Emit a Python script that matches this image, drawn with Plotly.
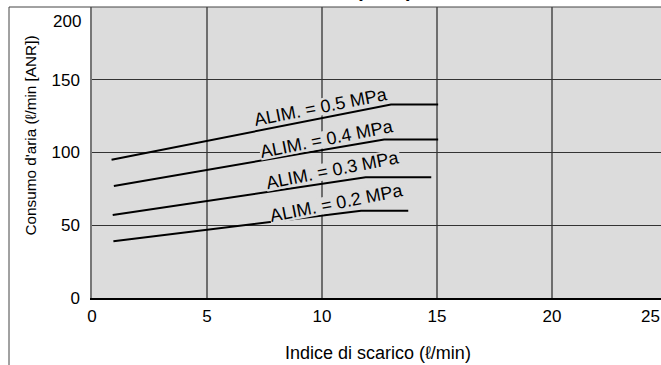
import plotly.graph_objects as go

# ---- data ----
series_names = ["ALIM. = 0.5 MPa", "ALIM. = 0.4 MPa", "ALIM. = 0.3 MPa", "ALIM. = 0.2 MPa"]
x_05 = [0.85, 13.0, 15.05]
y_05 = [95, 133, 133]
x_04 = [0.95, 12.7, 15.05]
y_04 = [77, 109, 109]
x_03 = [0.9, 11.9, 14.75]
y_03 = [57, 83, 83]
x_02 = [0.93, 11.7, 13.75]
y_02 = [39, 60, 60]
label_x = [9.95, 10.2, 10.49, 10.64]
label_y = [131.5, 109.6, 87.8, 65.0]
x_ticks = [0, 5, 10, 15, 20]
y_ticks = [0, 50, 100, 150]

FONT = "Liberation Sans"
BG = "#dcdcdc"

fig = go.Figure()
for xs, ys in [(x_05, y_05), (x_04, y_04), (x_03, y_03), (x_02, y_02)]:
    fig.add_trace(go.Scatter(x=xs, y=ys, mode="lines",
                             line=dict(color="black", width=2),
                             showlegend=False, hoverinfo="skip"))

annotations = []
for name, lx, ly in zip(series_names, label_x, label_y):
    annotations.append(dict(x=lx, y=ly, xref="x", yref="y", text=name,
                            showarrow=False, textangle=-11.2,
                            font=dict(family=FONT, size=18, color="black"),
                            bgcolor=BG, borderpad=0, height=16,
                            xanchor="center", yanchor="middle"))

# clipped tick labels / titles
annotations += [
    dict(x=-0.0158, y=0.950, xref="paper", yref="paper", text="200",
         showarrow=False, xanchor="right", yanchor="middle",
         font=dict(family=FONT, size=17, color="black")),
    dict(x=0.9807, y=-0.0619, xref="paper", yref="paper", text="25",
         showarrow=False, xanchor="center", yanchor="middle",
         font=dict(family=FONT, size=17, color="black")),
    dict(x=(29.5 - 92) / 569, y=(298 - 136) / 291, xref="paper", yref="paper",
         text="Consumo d'aria (ℓ/min [ANR])", textangle=-90, showarrow=False,
         xanchor="center", yanchor="middle",
         font=dict(family=FONT, size=15.3, color="black")),
    dict(x=(378 - 92) / 569, y=(298 - 353) / 291, xref="paper", yref="paper",
         text="Indice di scarico (ℓ/min)", showarrow=False,
         xanchor="center", yanchor="middle",
         font=dict(family=FONT, size=18, color="black")),
    dict(x=(384 - 92) / 569, y=1 + 4 / 291, xref="paper", yref="paper",
         text="<b>(ANR)</b>", showarrow=False,
         xanchor="center", yanchor="bottom",
         font=dict(family=FONT, size=20, color="black")),
]

shapes = [
    dict(type="rect", xref="paper", yref="paper",
         x0=(9 - 92) / 569, x1=1.2, y0=-0.4, y1=1.0,
         line=dict(color="#444444", width=1), fillcolor="rgba(0,0,0,0)",
         layer="above"),
]

fig.update_layout(
    width=661, height=365,
    margin=dict(l=92, r=0, t=7, b=67, pad=0),
    paper_bgcolor="white", plot_bgcolor=BG,
    font=dict(family=FONT, size=17, color="black"),
    annotations=annotations, shapes=shapes,
    showlegend=False,
)
fig.update_xaxes(range=[0, 569 / 23], tickvals=x_ticks, ticktext=[str(v) for v in x_ticks],
                 showgrid=True, gridcolor="#6e6e6e", gridwidth=1.5,
                 showline=True, linecolor="black", linewidth=1.5,
                 zeroline=False, ticks="outside", ticklen=2, tickcolor="rgba(0,0,0,0)",
                 tickfont=dict(family=FONT, size=17, color="black"))
fig.update_yaxes(range=[0, 200], tickvals=y_ticks, ticktext=[str(v) for v in y_ticks],
                 showgrid=True, gridcolor="#333333", gridwidth=1,
                 showline=True, linecolor="#777777", linewidth=1.5,
                 zeroline=False, ticks="outside", ticklen=7, tickcolor="rgba(0,0,0,0)",
                 tickfont=dict(family=FONT, size=17, color="black"))

fig.write_html("out.html", config={"displayModeBar": False},
               post_script="document.body.style.margin='0';document.body.style.overflow='hidden';")
